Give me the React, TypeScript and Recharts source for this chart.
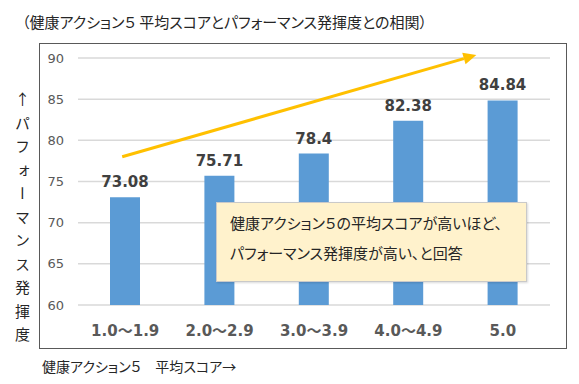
import React from "react";
import { BarChart, Bar, XAxis, YAxis, CartesianGrid, LabelList, ReferenceLine } from "recharts";

const categories = ["1.0～1.9", "2.0～2.9", "3.0～3.9", "4.0～4.9", "5.0"];
const scores = [73.08, 75.71, 78.4, 82.38, 84.84];
const yTicks = [60, 65, 70, 75, 80, 85, 90];
// trend arrow: start / end value (arrow is drawn 93% of the way to the end)
const trendFrom = 78;
const trendTo = 91.3;

const data = categories.map((c, i) => ({ name: c, value: scores[i] }));

const jp = '"Noto Sans CJK JP", "Noto Sans", sans-serif';
const num = '"DejaVu Sans", Verdana, sans-serif';
const palt = { fontFeatureSettings: '"palt"' };

// x tick: numbers in DejaVu, the wave dash in the CJK font
function CategoryTick(p: any) {
    const { x, y, payload } = p;
    const parts = String(payload.value).split("～");
    return (
        <text x={x} y={y} dy="0.71em" textAnchor="middle" fill="#595959" fontSize={15} fontWeight="bold" fontFamily={num}>
            {parts.map((s: string, i: number) => (
                <React.Fragment key={i}>
                    {i > 0 && <tspan fontFamily={jp}>～</tspan>}
                    <tspan>{s}</tspan>
                </React.Fragment>
            ))}
        </text>
    );
}

function TrendArrow(p: any) {
    const { x1, y1, x2, y2 } = p;
    const t = 0.93;
    const ex = x1 + (x2 - x1) * t;
    const ey = y1 + (y2 - y1) * t;
    const ang = Math.atan2(ey - y1, ex - x1);
    const len = 13;
    const half = 6;
    const bx = ex - Math.cos(ang) * len;
    const by = ey - Math.sin(ang) * len;
    const px = -Math.sin(ang) * half;
    const py = Math.cos(ang) * half;
    return (
        <g>
            <line x1={x1 - 3} y1={y1} x2={bx} y2={by} stroke="#FFC000" strokeWidth={3} />
            <polygon points={`${ex},${ey} ${bx + px},${by + py} ${bx - px},${by - py}`} fill="#FFC000" />
        </g>
    );
}

export default function App() {
    return (
        <div style={{ position: "absolute", left: 0, top: 0, width: 579, height: 384, background: "#fff", fontFamily: jp }}>
            <div
                style={{
                    position: "absolute",
                    left: 22,
                    top: 12,
                    fontSize: 15,
                    lineHeight: "20px",
                    color: "#262626",
                    whiteSpace: "nowrap",
                    ...palt,
                }}
            >
                （健康アクション５ 平均スコアとパフォーマンス発揮度との相関）
            </div>
            <div
                style={{
                    position: "absolute",
                    left: 12,
                    top: 92,
                    writingMode: "vertical-rl",
                    fontSize: 15,
                    letterSpacing: 8.5,
                    color: "#262626",
                }}
            >
                <span style={{ textOrientation: "upright" }}>↑</span>パフォーマンス発揮度
            </div>
            <div
                style={{
                    position: "absolute",
                    left: 39,
                    top: 43,
                    width: 528,
                    height: 306,
                    border: "1px solid #595959",
                    boxSizing: "border-box",
                }}
            >
                <BarChart width={526} height={304} data={data} margin={{ top: 14, right: 16, left: 0, bottom: 0 }}>
                    <CartesianGrid vertical={false} stroke="#D9D9D9" strokeWidth={1.5} />
                    <XAxis
                        dataKey="name"
                        axisLine={false}
                        tickLine={false}
                        height={43}
                        tickMargin={14}
                        tick={<CategoryTick />}
                    />
                    <YAxis
                        domain={[60, 90]}
                        ticks={yTicks}
                        width={38}
                        axisLine={false}
                        tickLine={false}
                        tickMargin={8}
                        tick={{ fill: "#595959", fontSize: 13, fontFamily: num }}
                    />
                    <Bar dataKey="value" fill="#5B9BD5" barSize={30} isAnimationActive={false}>
                        <LabelList
                            dataKey="value"
                            position="top"
                            offset={10}
                            style={{ fill: "#404040", fontSize: 15, fontWeight: "bold", fontFamily: num }}
                        />
                    </Bar>
                    <ReferenceLine
                        segment={[
                            { x: categories[0], y: trendFrom },
                            { x: categories[4], y: trendTo },
                        ]}
                        ifOverflow="visible"
                        shape={TrendArrow}
                    />
                </BarChart>
            </div>
            <div
                style={{
                    position: "absolute",
                    left: 216,
                    top: 202,
                    width: 311,
                    height: 80,
                    background: "#FFF2CC",
                    border: "1px solid #C9C9C9",
                    boxSizing: "border-box",
                    boxShadow: "1px 1px 2px rgba(0,0,0,0.15)",
                    padding: "5px 0 0 13px",
                    fontSize: 15,
                    lineHeight: "30px",
                    color: "#262626",
                    whiteSpace: "nowrap",
                    ...palt,
                }}
            >
                健康アクション５の平均スコアが高いほど、
                <br />
                パフォーマンス発揮度が高い、と回答
            </div>
            <div
                style={{
                    position: "absolute",
                    left: 42,
                    top: 356,
                    fontSize: 14,
                    lineHeight: "20px",
                    color: "#262626",
                    whiteSpace: "nowrap",
                    ...palt,
                }}
            >
                健康アクション５　平均スコア→
            </div>
        </div>
    );
}
